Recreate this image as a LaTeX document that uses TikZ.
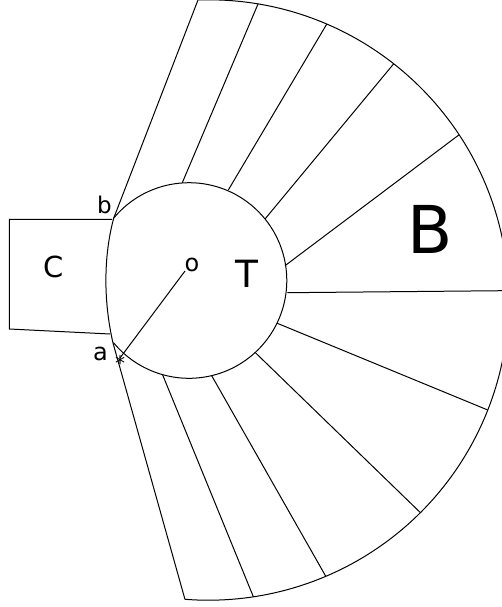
\documentclass[tikz,border=0pt]{standalone}
\usepackage{fontspec}
\usetikzlibrary{calc}
\setmainfont{DejaVu Sans}
\tikzset{lbl/.style={inner sep=0pt,font=\fontsize{#1}{#1}\selectfont},edge/.style={line width=1pt,black}}
\begin{document}
\begin{tikzpicture}[x=1pt,y=-1pt,edge]
\useasboundingbox (0,0) rectangle (502,607);
\coordinate (ctr) at (189,280.5);
\coordinate (octr) at (208.5,300);
\coordinate (bp) at ($(ctr)+(-140.3:97.8)$);
\coordinate (ap) at (113,343);
\coordinate (sp) at (120,358);
\coordinate (i1) at (182.3,182.7);
\coordinate (i2) at (228.3,190);
\coordinate (i3) at (265,219);
\coordinate (i4) at (285,265.7);
\coordinate (i5) at (287.3,292.7);
\coordinate (i6) at (277.3,323.3);
\coordinate (i7) at (255,352.3);
\coordinate (i8) at (211.7,375.7);
\coordinate (i9) at (162.7,375);
\coordinate (o0) at (198,0);
\coordinate (o1) at ($(octr)+(-80.5:300.2)$);
\coordinate (o2) at ($(octr)+(-66.8:300.2)$);
\coordinate (o3) at ($(octr)+(-51.9:300.2)$);
\coordinate (o4) at ($(octr)+(-33.4:300.2)$);
\coordinate (o5) at (503,290.7);
\coordinate (o6) at ($(octr)+(21.5:300.2)$);
\coordinate (o7) at ($(octr)+(45.1:300.2)$);
\coordinate (o8) at ($(octr)+(67:300.2)$);
\coordinate (o9) at ($(octr)+(81.4:300.2)$);
\coordinate (o10) at ($(octr)+(94.5:300.2)$);
\coordinate (c0) at (112,219.3);
\coordinate (c1) at (9.3,219.3);
\coordinate (c2) at (9.3,329);
\coordinate (c3) at (110,334);
% inner circle
\draw (bp) arc[start angle=-140.3,end angle=140.6,radius=97.8];
% outer arc
\draw (o0) arc[start angle=-92,end angle=94.5,radius=300.2];
% left side of inner outline
\draw (bp) .. controls (105,250) and (102,295) .. (ap);
% spokes
\draw (o0) -- (bp);
\foreach \k in {1,...,9} {\draw (o\k) -- (i\k);}
\draw (o10) -- (ap);
% C box
\draw (c0) -- (c1) -- (c2) -- (c3);
% radius
\coordinate (r) at (185,271);
\draw (r) -- (sp);
% labels
\node[lbl=24] (la) at (100.5,354) {a};
\node[lbl=23] (lb) at (104.5,204.7) {b};
\node[lbl=24] (lo) at (192,265) {o};
\node[lbl=37.5] (lt) at (246.7,273.7) {T};
\node[lbl=29] (lc) at (54,267) {C};
\node[lbl=66] (lB) at (430,229) {B};
\node[lbl=20] (st) at (120,363) {*};
\end{tikzpicture}
\end{document}
